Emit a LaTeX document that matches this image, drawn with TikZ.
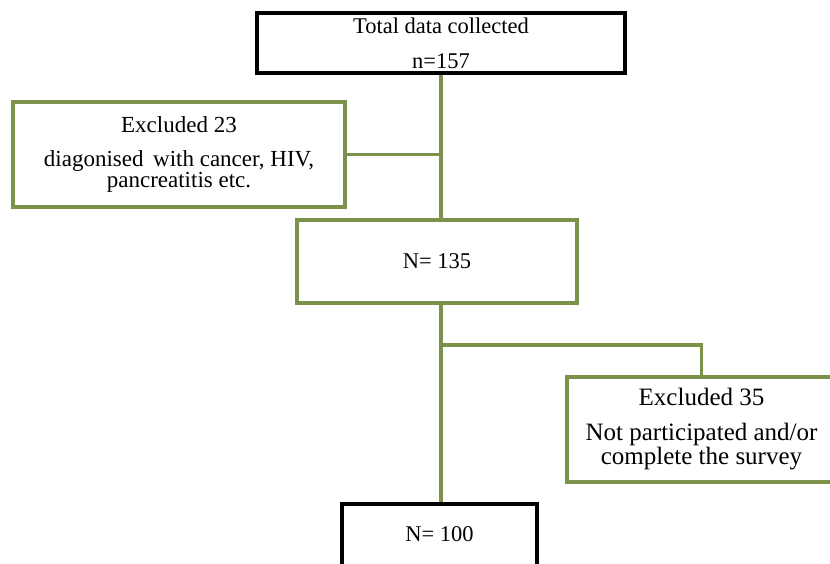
\documentclass[tikz,border=0pt]{standalone}
\usepackage{fontspec}
\setmainfont{Liberation Serif}
\definecolor{olive}{RGB}{124,145,74}
\tikzset{
  blackbox/.style={draw=black, line width=4pt, fill=white, inner sep=0pt, align=center},
  greenbox/.style={draw=olive, line width=4pt, fill=white, inner sep=0pt, align=center},
  conn/.style={draw=olive, line width=4pt},
  connh/.style={draw=olive, line width=3.5pt}
}
\begin{document}
\begin{tikzpicture}[x=1pt,y=-1pt]
\useasboundingbox[fill=white] (0,0) rectangle (830,563);
\node[blackbox, minimum width=368pt, minimum height=60pt,
      font=\fontsize{22.5}{35}\selectfont] (top) at (441,43)
      {Total data collected\\ n=157};
\node[greenbox, minimum width=332pt, minimum height=105pt,
      font=\fontsize{23}{21}\selectfont] (ex23) at (179,154.5)
      {Excluded 23\\[13pt] diagonised\, with cancer, HIV,\\ pancreatitis etc.};
\node[greenbox, minimum width=280pt, minimum height=83pt,
      font=\fontsize{22.5}{27}\selectfont] (n135) at (437,261.5) {N= 135};
\node[greenbox, minimum width=269pt, minimum height=105pt,
      font=\fontsize{25}{24}\selectfont] (ex35) at (701.5,429.5)
      {Excluded 35\\[11pt] Not participated and/or\\ complete the survey};
\node[blackbox, minimum width=195pt, minimum height=80pt,
      font=\fontsize{22.5}{27}\selectfont, anchor=north] (n100) at (439.5,502)
      {\raisebox{20pt}{N= 100}};
% connectors
\draw[conn] (top.south) -- (top.south |- n135.north);
\draw[connh] (ex23.east) -- (ex23.east -| top.south);
\draw[conn] (top.south |- n135.south) -- (top.south |- n100.north);
\coordinate (br) at (top.south |- 0,345);
\draw[connh] (br) -| (ex35.north);
\end{tikzpicture}
\end{document}
